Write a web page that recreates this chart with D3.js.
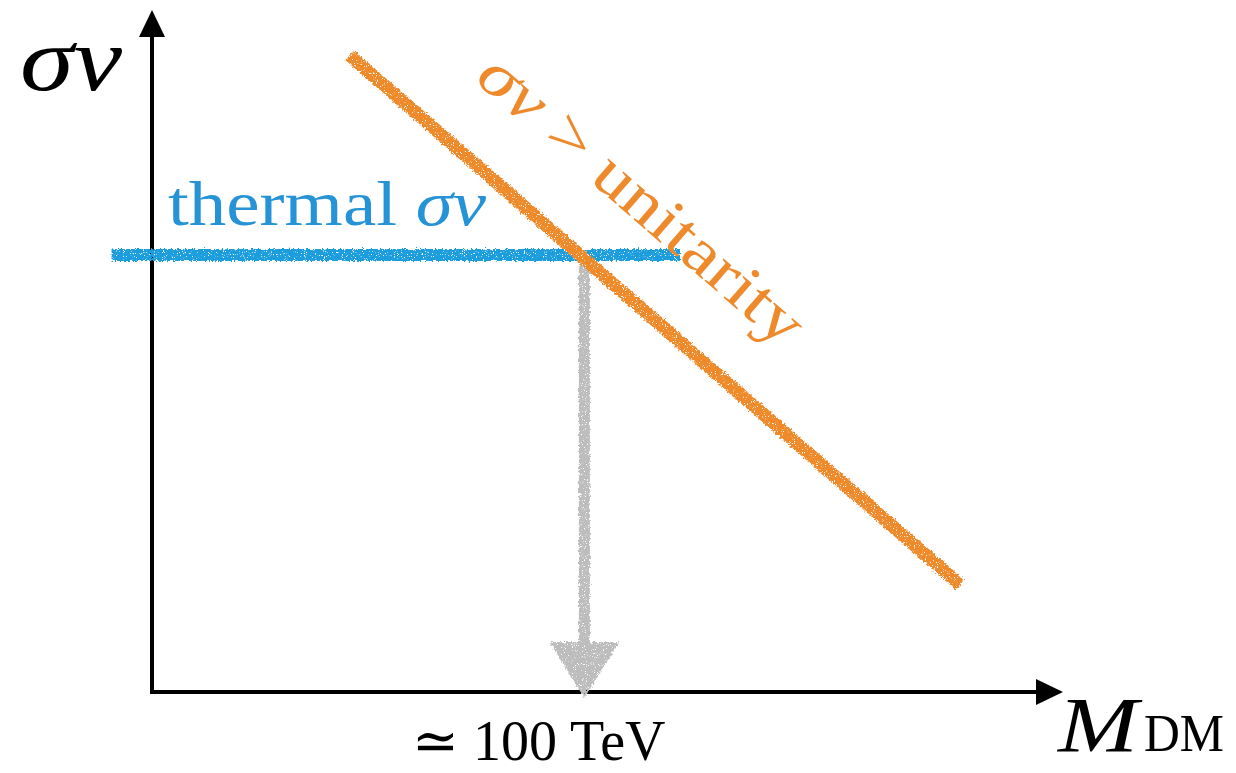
<!DOCTYPE html>
<html>
<head>
<meta charset="utf-8">
<script src="https://cdn.jsdelivr.net/npm/d3@7"></script>
<style>
  html, body { margin: 0; padding: 0; background: #fff; }
  svg { display: block; }
  text { font-family: "Liberation Serif", "DejaVu Serif", serif; }
  .it { font-style: italic; }
</style>
</head>
<body>
<svg id="chart" width="1236" height="773"></svg>
<script>
// Schematic: thermal annihilation cross section vs. unitarity bound (log-log)
const massDomainTeV = [1, Math.pow(10, 4.2)];
const sigmaVDomain = [Math.pow(10, -30.31), Math.pow(10, -23.05)];

const thermalSigmaV = 2.2e-26;              // cm^3/s
const thermalMassTeV = [0.65, 277];         // extent of the thermal line
const unitarityMassTeV = [8.2, 5460];       // endpoints of the unitarity line
const unitaritySigmaV = [2.95e-24, 6.8e-30];
const crossingMassTeV = [100];              // where the two lines meet
const crossingLabel = ["\u2243 100 TeV"];

const colors = { thermal: "#1e9ddd", thermalText: "#2593d6", unitarity: "#ef8a2c", arrow: "#bdbdbd", axis: "#000" };

const svg = d3.select("#chart");

const x = d3.scaleLog().domain(massDomainTeV).range([152, 1060]);
const y = d3.scaleLog().domain(sigmaVDomain).range([692, 10]);

// rough crayon-like edge for the hand-drawn strokes
const defs = svg.append("defs");
const f = defs.append("filter").attr("id", "crayon")
  .attr("x", "-5%").attr("y", "-5%").attr("width", "110%").attr("height", "110%");
f.append("feTurbulence").attr("type", "fractalNoise").attr("baseFrequency", 0.45)
  .attr("numOctaves", 3).attr("seed", 4).attr("result", "noise");
f.append("feDisplacementMap").attr("in", "SourceGraphic").attr("in2", "noise")
  .attr("scale", 5).attr("xChannelSelector", "R").attr("yChannelSelector", "G").attr("result", "disp");
f.append("feTurbulence").attr("type", "fractalNoise").attr("baseFrequency", 0.9)
  .attr("numOctaves", 2).attr("seed", 9).attr("result", "speck");
f.append("feColorMatrix").attr("in", "speck").attr("type", "matrix")
  .attr("values", "0 0 0 0 0  0 0 0 0 0  0 0 0 0 0  0 0 0 -9 6.7").attr("result", "mask");
f.append("feComposite").attr("in", "disp").attr("in2", "mask").attr("operator", "in");

// axes with arrow heads
const axisY = x.range()[0];
const axisX = y.range()[0];
const g = svg.append("g");
g.append("line").attr("x1", axisY).attr("x2", axisY).attr("y1", axisX + 1).attr("y2", 30)
  .attr("stroke", colors.axis).attr("stroke-width", 4);
g.append("path").attr("d", `M${axisY},10 L${axisY - 13},37 L${axisY + 13},37 Z`).attr("fill", colors.axis);
g.append("line").attr("x1", axisY - 2).attr("x2", 1040).attr("y1", axisX).attr("y2", axisX)
  .attr("stroke", colors.axis).attr("stroke-width", 4);
g.append("path").attr("d", `M1063,${axisX} L1036,${axisX - 13} L1036,${axisX + 13} Z`).attr("fill", colors.axis);

// gray arrow from the crossing point down to the mass axis
const marks = svg.append("g").attr("filter", "url(#crayon)");
crossingMassTeV.forEach(m => {
  const cx = x(m);
  marks.append("line").attr("x1", cx).attr("x2", cx).attr("y1", y(thermalSigmaV)).attr("y2", 650)
    .attr("stroke", colors.arrow).attr("stroke-width", 11);
  marks.append("path").attr("d", `M${cx - 35},642 L${cx + 35},642 L${cx},698 Z`).attr("fill", colors.arrow);
});

// thermal cross section
marks.append("line")
  .attr("x1", x(thermalMassTeV[0])).attr("x2", x(thermalMassTeV[1]))
  .attr("y1", y(thermalSigmaV)).attr("y2", y(thermalSigmaV))
  .attr("stroke", colors.thermal).attr("stroke-width", 12);

// unitarity bound
marks.append("line")
  .attr("x1", x(unitarityMassTeV[0])).attr("x2", x(unitarityMassTeV[1]))
  .attr("y1", y(unitaritySigmaV[0])).attr("y2", y(unitaritySigmaV[1]))
  .attr("stroke", colors.unitarity).attr("stroke-width", 13);

// axis labels
svg.append("text").attr("class", "it").attr("x", 20).attr("y", 90)
  .attr("font-size", 92).attr("textLength", 102).attr("lengthAdjust", "spacingAndGlyphs")
  .text("\u03c3v");

const ml = svg.append("text").attr("x", 1058).attr("y", 751);
ml.append("tspan").attr("class", "it").attr("font-size", 78)
  .attr("textLength", 80).attr("lengthAdjust", "spacingAndGlyphs").text("M");
ml.append("tspan").attr("x", 1144).attr("font-size", 52)
  .attr("textLength", 80).attr("lengthAdjust", "spacingAndGlyphs").text("DM");

svg.append("text").attr("x", 412).attr("y", 760).attr("font-size", 56).text(crossingLabel[0]);

// line labels
const tl = svg.append("text").attr("x", 168).attr("y", 225).attr("font-size", 64)
  .attr("fill", colors.thermalText)
  .attr("textLength", 318).attr("lengthAdjust", "spacingAndGlyphs");
tl.append("tspan").text("thermal ");
tl.append("tspan").attr("class", "it").text("\u03c3v");

const x0 = x(unitarityMassTeV[0]), y0 = y(unitaritySigmaV[0]);
const x1 = x(unitarityMassTeV[1]), y1 = y(unitaritySigmaV[1]);
const ang = Math.atan2(y1 - y0, x1 - x0);
const ux = Math.cos(ang), uy = Math.sin(ang);
const along = 110, off = -62;
const lx = x0 + along * ux - off * uy, ly = y0 + along * uy + off * ux;
const ul = svg.append("text").attr("font-size", 64).attr("fill", colors.unitarity)
  .attr("textLength", 410).attr("lengthAdjust", "spacingAndGlyphs")
  .attr("transform", `translate(${lx},${ly}) rotate(${ang * 180 / Math.PI})`);
ul.append("tspan").attr("class", "it").text("\u03c3v");
ul.append("tspan").text(" >  unitarity");
</script>
</body>
</html>
